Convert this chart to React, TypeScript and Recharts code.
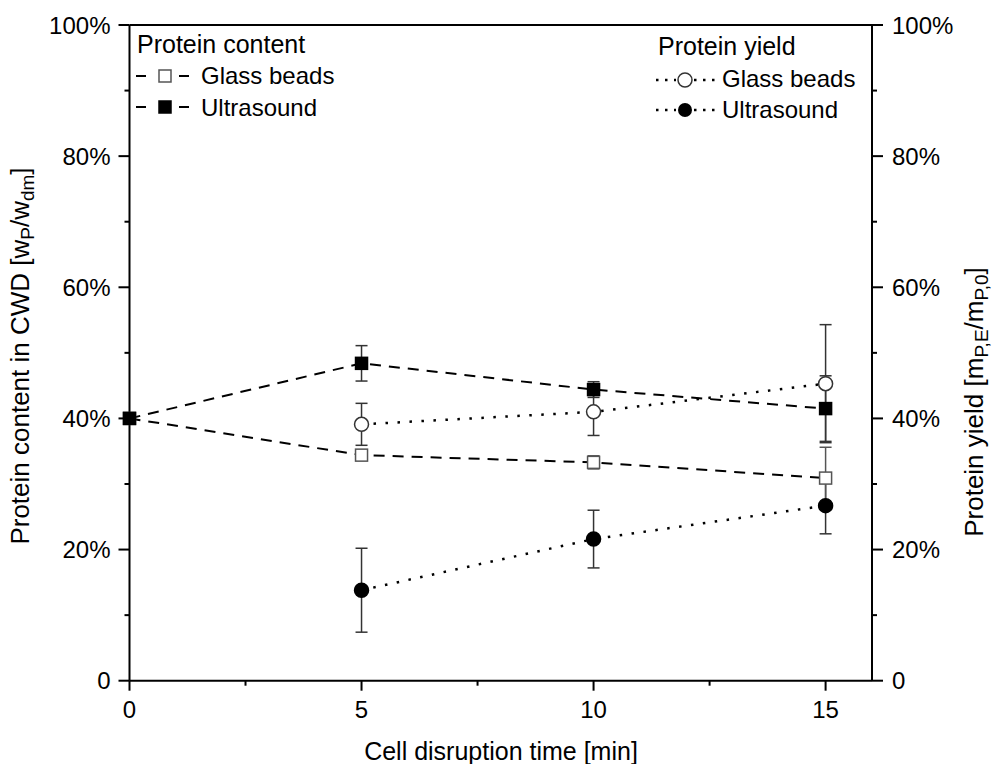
import React from 'react';
import { ComposedChart, Line, XAxis, YAxis, ErrorBar, ReferenceLine } from 'recharts';

// cell disruption time [min]
const times = [0, 5, 10, 15];

// protein content in CWD [%]
const glassContent = [40, 34.4, 33.3, 30.9];
const glassContentErr = [0.4, 0.6, 1.0, 4.7];
const ultraContent = [40, 48.4, 44.4, 41.5];
const ultraContentErr = [0.4, 2.7, 1.2, 5.0];

// protein yield [%] (no value at t = 0)
const yieldTimes = [5, 10, 15];
const glassYield = [39.1, 41.0, 45.3];
const glassYieldErr = [3.2, 3.6, 9.0];
const ultraYield = [13.8, 21.6, 26.7];
const ultraYieldErr = [6.4, 4.4, 4.3];

const xTicks = [0, 2.5, 5, 7.5, 10, 12.5, 15];
const yTicks = [0, 10, 20, 30, 40, 50, 60, 70, 80, 90, 100];

const W = 993;
const H = 764;
const FONT = '"Liberation Sans", Arial, sans-serif';

const build = (t: number[], v: number[], e: number[]) =>
  t.map((x, i) => ({ t: x, v: v[i], err: e[i] }));

const glassContentData = build(times, glassContent, glassContentErr);
const ultraContentData = build(times, ultraContent, ultraContentErr);
const glassYieldData = build(yieldTimes, glassYield, glassYieldErr);
const ultraYieldData = build(yieldTimes, ultraYield, ultraYieldErr);

const XTick = (p: any) => {
  const { x, y, payload } = p;
  const major = payload.value % 5 === 0;
  return (
    <g>
      <line x1={x} x2={x} y1={y} y2={y + (major ? 10 : 5)} stroke="#000" strokeWidth={2} />
      {major && (
        <text x={x} y={y + 37} textAnchor="middle" fontSize={24} fontFamily={FONT} fill="#000">
          {payload.value}
        </text>
      )}
    </g>
  );
};

const pct = (v: number) => (v === 0 ? '0' : `${v}%`);

const LeftTick = (p: any) => {
  const { x, y, payload } = p;
  const major = payload.value % 20 === 0;
  return (
    <g>
      <line x1={x - (major ? 11 : 5)} x2={x} y1={y} y2={y} stroke="#000" strokeWidth={2} />
      {major && (
        <text x={x - 19} y={y + 8.5} textAnchor="end" fontSize={24} fontFamily={FONT} fill="#000">
          {pct(payload.value)}
        </text>
      )}
    </g>
  );
};

const RightTick = (p: any) => {
  const { x, y, payload } = p;
  const major = payload.value % 20 === 0;
  return (
    <g>
      <line x1={x} x2={x + (major ? 11 : 5)} y1={y} y2={y} stroke="#000" strokeWidth={2} />
      {major && (
        <text x={x + 20} y={y + 8.5} textAnchor="start" fontSize={24} fontFamily={FONT} fill="#000">
          {pct(payload.value)}
        </text>
      )}
    </g>
  );
};

const squareDot = (fill: string, stroke: string) => (p: any) => {
  const { cx, cy, key } = p;
  if (cx == null || cy == null) return <g key={key} />;
  return <rect key={key} x={cx - 6} y={cy - 6} width={12} height={12} fill={fill} stroke={stroke} strokeWidth={1.5} />;
};

const circleDot = (fill: string, stroke: string) => (p: any) => {
  const { cx, cy, key } = p;
  if (cx == null || cy == null) return <g key={key} />;
  return <circle key={key} cx={cx} cy={cy} r={7} fill={fill} stroke={stroke} strokeWidth={1.5} />;
};

const DASH = '11 8';
const DOT = '2.5 9.5';

// legend + axis titles overlay
const Overlay = () => {
  const txt = { fontSize: 24, fontFamily: FONT, fill: '#000' };
  const head = { ...txt, fontSize: 25 };
  const ttl = { ...txt, fontSize: 25 };
  const vttl = { ...txt, fontSize: 26 };
  const sub = 19;
  return (
    <svg width={W} height={H} style={{ position: 'absolute', left: 0, top: 0, pointerEvents: 'none' }}>
      {/* left legend: protein content */}
      <text x={137} y={53} {...head}>Protein content</text>
      <line x1={136} x2={146} y1={76} y2={76} stroke="#000" strokeWidth={2} />
      <line x1={179} x2={189} y1={76} y2={76} stroke="#000" strokeWidth={2} />
      <rect x={159} y={70} width={12} height={12} fill="#fff" stroke="#555" strokeWidth={1.5} />
      <text x={201} y={84} {...txt}>Glass beads</text>
      <line x1={136} x2={146} y1={107} y2={107} stroke="#000" strokeWidth={2} />
      <line x1={179} x2={189} y1={107} y2={107} stroke="#000" strokeWidth={2} />
      <rect x={159} y={101} width={12} height={12} fill="#000" stroke="#000" strokeWidth={1.5} />
      <text x={201} y={116} {...txt}>Ultrasound</text>

      {/* right legend: protein yield */}
      <text x={658} y={55} {...head}>Protein yield</text>
      <line x1={656} x2={676} y1={80} y2={80} stroke="#000" strokeWidth={2.5} strokeDasharray="2.5 6.5" />
      <line x1={694} x2={716} y1={80} y2={80} stroke="#000" strokeWidth={2.5} strokeDasharray="2.5 6.5" />
      <circle cx={685} cy={80} r={7} fill="#fff" stroke="#333" strokeWidth={1.5} />
      <text x={722} y={87} {...txt}>Glass beads</text>
      <line x1={656} x2={676} y1={110} y2={110} stroke="#000" strokeWidth={2.5} strokeDasharray="2.5 6.5" />
      <line x1={694} x2={716} y1={110} y2={110} stroke="#000" strokeWidth={2.5} strokeDasharray="2.5 6.5" />
      <circle cx={685} cy={110} r={7} fill="#000" />
      <text x={722} y={118} {...txt}>Ultrasound</text>

      {/* axis titles */}
      <text x={501} y={760} textAnchor="middle" {...ttl}>Cell disruption time [min]</text>
      <text x={29} y={356} textAnchor="middle" transform="rotate(-90 29 356)" {...vttl}>
        Protein content in CWD [w<tspan dy={5} fontSize={sub}>P</tspan>
        <tspan dy={-5}>/w</tspan><tspan dy={5} fontSize={sub}>dm</tspan><tspan dy={-5}>]</tspan>
      </text>
      <text x={983} y={402} textAnchor="middle" transform="rotate(-90 983 402)" {...vttl}>
        Protein yield [m<tspan dy={5} fontSize={sub}>P,E</tspan>
        <tspan dy={-5}>/m</tspan><tspan dy={5} fontSize={sub}>P,0</tspan><tspan dy={-5}>]</tspan>
      </text>
    </svg>
  );
};

const App: React.FC = () => {
  return (
    <div style={{ position: 'fixed', left: 0, top: 0, width: W, height: H, background: '#fff' }}>
      <ComposedChart width={W} height={H} margin={{ top: 25, right: 0, bottom: 0, left: 0 }}>
        <XAxis
          dataKey="t"
          type="number"
          domain={[0, 16]}
          ticks={xTicks}
          allowDuplicatedCategory={false}
          height={83.3}
          tickSize={0}
          tickMargin={0}
          tickLine={false}
          tick={<XTick />}
          interval={0}
          axisLine={{ stroke: '#000', strokeWidth: 2 }}
        />
        <YAxis
          yAxisId="left"
          orientation="left"
          type="number"
          domain={[0, 100]}
          ticks={yTicks}
          width={129.5}
          tickSize={0}
          tickMargin={0}
          tickLine={false}
          tick={<LeftTick />}
          interval={0}
          axisLine={{ stroke: '#000', strokeWidth: 2 }}
        />
        <YAxis
          yAxisId="right"
          orientation="right"
          type="number"
          domain={[0, 100]}
          ticks={yTicks}
          width={121}
          tickSize={0}
          tickMargin={0}
          tickLine={false}
          tick={<RightTick />}
          interval={0}
          axisLine={{ stroke: '#000', strokeWidth: 2 }}
        />
        <ReferenceLine yAxisId="left" y={100} stroke="#000" strokeWidth={2} />

        <Line
          yAxisId="right"
          data={glassYieldData}
          dataKey="v"
          type="linear"
          stroke="#000"
          strokeWidth={2.5}
          strokeDasharray={DOT}
          dot={circleDot('#fff', '#333')}
          activeDot={false}
          isAnimationActive={false}
        >
          <ErrorBar dataKey="err" direction="y" width={6} stroke="#333" strokeWidth={1.5} />
        </Line>
        <Line
          yAxisId="right"
          data={ultraYieldData}
          dataKey="v"
          type="linear"
          stroke="#000"
          strokeWidth={2.5}
          strokeDasharray={DOT}
          dot={circleDot('#000', '#000')}
          activeDot={false}
          isAnimationActive={false}
        >
          <ErrorBar dataKey="err" direction="y" width={6} stroke="#333" strokeWidth={1.5} />
        </Line>
        <Line
          yAxisId="left"
          data={glassContentData}
          dataKey="v"
          type="linear"
          stroke="#000"
          strokeWidth={2}
          strokeDasharray={DASH}
          dot={squareDot('#fff', '#555')}
          activeDot={false}
          isAnimationActive={false}
        >
          <ErrorBar dataKey="err" direction="y" width={6} stroke="#555" strokeWidth={1.5} />
        </Line>
        <Line
          yAxisId="left"
          data={ultraContentData}
          dataKey="v"
          type="linear"
          stroke="#000"
          strokeWidth={2}
          strokeDasharray={DASH}
          dot={squareDot('#000', '#000')}
          activeDot={false}
          isAnimationActive={false}
        >
          <ErrorBar dataKey="err" direction="y" width={6} stroke="#333" strokeWidth={1.5} />
        </Line>
      </ComposedChart>
      <Overlay />
    </div>
  );
};

export default App;
